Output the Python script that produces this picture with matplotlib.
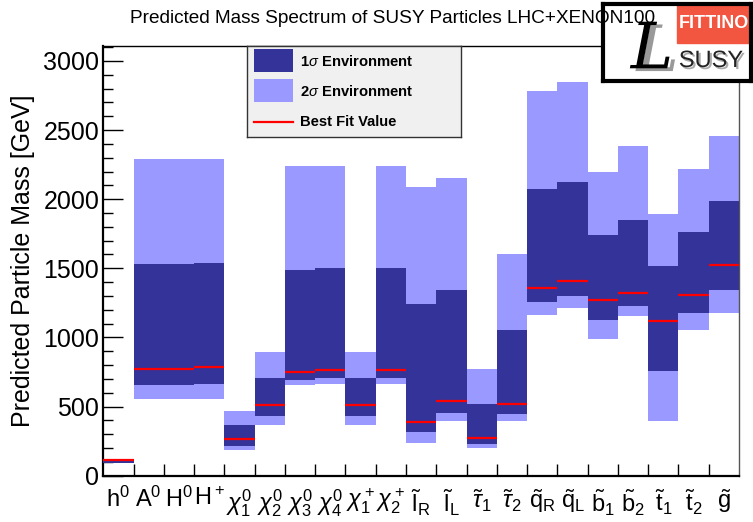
"""Spectrum of predicted SUSY masses with 1 and 2 sigma bands (LHC+XENON100 fit)."""
import numpy as np
import matplotlib
matplotlib.use("Agg")
import matplotlib.pyplot as plt
from matplotlib.patches import Rectangle
from matplotlib.ticker import MultipleLocator
import matplotlib.patheffects as pe

plt.rcParams["font.family"] = ["Liberation Sans", "DejaVu Sans"]
plt.rcParams["mathtext.fontset"] = "custom"
plt.rcParams["mathtext.rm"] = "Liberation Sans"
plt.rcParams["mathtext.it"] = "Liberation Sans:italic"
plt.rcParams["mathtext.bf"] = "Liberation Sans:bold"

DARK  = "#333399"
LIGHT = "#9999ff"
RED   = "#ff0000"

W, H = 753, 522

particles = [
    r"$\mathrm{h}^0$", r"$\mathrm{A}^0$", r"$\mathrm{H}^0$", r"$\mathrm{H}^+$",
    r"$\mathit{\chi}^0_1$", r"$\mathit{\chi}^0_2$", r"$\mathit{\chi}^0_3$", r"$\mathit{\chi}^0_4$",
    r"$\mathit{\chi}^+_1$", r"$\mathit{\chi}^+_2$",
    r"$\tilde{\mathrm{l}}_\mathrm{R}$", r"$\tilde{\mathrm{l}}_\mathrm{L}$",
    r"$\tilde{\tau}_1$", r"$\tilde{\tau}_2$",
    r"$\tilde{\mathrm{q}}_\mathrm{R}$", r"$\tilde{\mathrm{q}}_\mathrm{L}$",
    r"$\tilde{\mathrm{b}}_1$", r"$\tilde{\mathrm{b}}_2$",
    r"$\tilde{\mathrm{t}}_1$", r"$\tilde{\mathrm{t}}_2$",
    r"$\tilde{\mathrm{g}}$",
]

# masses in GeV
best_fit = [114, 772, 772, 789, 265, 514, 750, 762, 514, 762, 390, 539,
            274, 515, 1356, 1409, 1270, 1323, 1121, 1308, 1525]
low_1s   = [95, 657, 657, 664, 216, 433, 693, 707, 433, 705, 313, 457,
            231, 447, 1255, 1299, 1126, 1227, 758, 1176, 1342]
high_1s  = [117, 1530, 1530, 1537, 368, 707, 1486, 1501, 707, 1501, 1241, 1342,
            522, 1053, 2071, 2121, 1741, 1847, 1515, 1760, 1984]
low_2s   = [94, 558, 558, 558, 183, 368, 657, 664, 368, 664, 233, 397,
            197, 397, 1162, 1212, 988, 1154, 399, 1053, 1178]
high_2s  = [118, 2287, 2287, 2287, 469, 895, 2239, 2239, 895, 2237, 2085, 2150,
            770, 1602, 2785, 2850, 2200, 2381, 1895, 2215, 2460]

legend_labels = [r"1$\sigma$ Environment", r"2$\sigma$ Environment", "Best Fit Value"]

best_fit = np.array(best_fit)
low_1s, high_1s = np.array(low_1s), np.array(high_1s)
low_2s, high_2s = np.array(low_2s), np.array(high_2s)
x = np.arange(len(particles))


def px_axes(fig, x0, y0, x1, y1):
    """Axes placed in pixel box (from top-left), data coords = pixels."""
    a = fig.add_axes([x0 / W, 1 - y1 / H, (x1 - x0) / W, (y1 - y0) / H])
    a.set_xlim(x0, x1)
    a.set_ylim(y1, y0)
    a.set_xticks([])
    a.set_yticks([])
    return a


fig = plt.figure(figsize=(W / 100, H / 100), dpi=100, facecolor="white")
ax = fig.add_axes([0.1372, 0.0887, 0.8442, 0.8238])

ax.bar(x, high_2s - low_2s, bottom=low_2s, width=1, align="edge",
       color=LIGHT, linewidth=0, zorder=2)
ax.bar(x, high_1s - low_1s, bottom=low_1s, width=1, align="edge",
       color=DARK, linewidth=0, zorder=3)
ax.hlines(best_fit, x, x + 1, color=RED, lw=1.6, zorder=4)

ax.set_xlim(0, len(particles))
ax.set_ylim(0, 3110)

# labels at bin centres, ticks on the bin edges
ax.set_xticks(x + 0.5)
ax.set_xticklabels(particles, fontsize=17)
ax.set_xticks(np.arange(1, len(particles)), minor=True)
ax.tick_params(axis="x", which="major", length=0, pad=8)
ax.tick_params(axis="x", which="minor", direction="in", length=8.5, width=1, color="black")

ax.yaxis.set_major_locator(MultipleLocator(500))
ax.yaxis.set_minor_locator(MultipleLocator(100))
ax.tick_params(axis="y", which="major", direction="in", length=14.4, width=1,
               labelsize=18, pad=3)
ax.tick_params(axis="y", which="minor", direction="in", length=7.2, width=1)

ax.set_ylabel("Predicted Particle Mass [GeV]", fontsize=18, labelpad=6)

for side in ["left", "bottom"]:
    ax.spines[side].set_linewidth(1.6)
    ax.spines[side].set_color("black")
ax.spines["top"].set_linewidth(1.0)
ax.spines["right"].set_linewidth(1.0)
ax.spines["right"].set_color("#555555")

# legend box
lg = px_axes(fig, 247, 46, 461, 137)
lg.set_facecolor("#f0f0f0")
for sp in lg.spines.values():
    sp.set_linewidth(1.0)
    sp.set_color("#333333")
lg.add_patch(Rectangle((254, 49), 39, 23, facecolor=DARK, edgecolor="none"))
lg.add_patch(Rectangle((254, 79), 39, 23, facecolor=LIGHT, edgecolor="none"))
lg.plot([254, 293], [121.5, 121.5], color=RED, lw=1.6)
for yc, lab in zip([61, 91, 121.5], legend_labels):
    lg.text(300, yc, lab, fontsize=10.6, fontweight="bold", ha="left", va="center")

# Fittino logo in the top right corner
logo = px_axes(fig, 603, 4, 751, 81)
for sp in logo.spines.values():
    sp.set_linewidth(3)
    sp.set_color("black")
logo.add_patch(Rectangle((677, 4), 74, 39, color="#f25540"))
logo.text(714, 24, "FITTINO", color="white", fontsize=13, fontweight="bold",
          ha="center", va="center")
logo.text(711, 61, "SUSY", color="#222222", fontsize=17, ha="center", va="center",
          path_effects=[pe.withSimplePatchShadow(offset=(1.5, -1.5),
                                                 shadow_rgbFace="#aaaaaa", alpha=1)])
logo.text(652, 51, "L", color="black", fontsize=46, family="DejaVu Serif",
          style="italic", ha="center", va="center",
          path_effects=[pe.withSimplePatchShadow(offset=(4, -2),
                                                 shadow_rgbFace="#999999", alpha=1)])

fig.text(0.521, 0.965, "Predicted Mass Spectrum of SUSY Particles LHC+XENON100",
         fontsize=13.7, ha="center", va="center", zorder=10)

fig.savefig("out.png", dpi=100, facecolor="white")
